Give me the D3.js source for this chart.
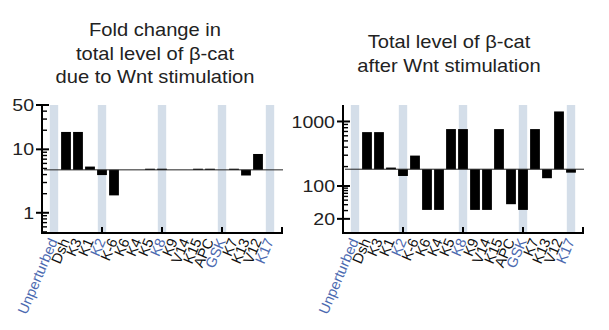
<!DOCTYPE html>
<html>
<head>
<meta charset="utf-8">
<script src="https://cdn.jsdelivr.net/npm/d3@7"></script>
<style>
  html, body { margin: 0; padding: 0; background: #fff; }
  svg { display: block; font-family: "Liberation Sans", Arial, sans-serif; }
</style>
</head>
<body>
<svg id="chart" width="609" height="330"></svg>
<script>
// Perturbations shown along the x axis
const categories = ["Unperturbed", "Dsh", "K3", "K1", "K2", "K-6", "K6", "K4", "K5", "K8",
                    "K9", "V14", "K15", "APC", "GSK", "K7", "K13", "V12", "K17"];
// Perturbations drawn with a shaded column and blue label
const highlighted = ["Unperturbed", "K2", "K8", "GSK", "K17"];

// Fold change in total beta-catenin due to Wnt stimulation
const foldChange = [4.75, 18.8, 18.8, 5.35, 3.93, 1.88, 4.75, 4.75, 4.95, 4.95,
                    4.75, 4.75, 4.95, 4.95, 4.75, 4.95, 3.87, 8.45, 4.75];
const foldBaseline = 4.75;
const foldTicks = [1, 10, 50];
const foldMinor = [0.5, 0.6, 0.7, 0.8, 0.9, 2, 3, 4, 5, 6, 7, 8, 9, 20, 30, 40];

// Total beta-catenin level after Wnt stimulation
const totalLevel = [182, 684, 684, 193, 143, 296, 31, 31, 762, 762,
                    31, 31, 762, 41, 31, 762, 132, 1430, 161];
const totalBaseline = 182;
const totalTicks = [20, 100, 1000];
const totalMinor = [30, 40, 50, 60, 70, 80, 90, 200, 300, 400, 500, 600, 700, 800, 900];

const svg = d3.select("#chart");
const blue = "#4b69b0";
const shade = "#d4dee9";
const yTop = 105, yBottom = 233;
const widen = 1.15; // text is set slightly wide

function panel(opts) {
  const g = svg.append("g");
  const x = d3.scaleLinear().domain([-1, categories.length]).range([opts.x0, opts.x0 + 240]);
  const y = opts.y;

  // title
  g.selectAll("text.title")
    .data(opts.title)
    .join("text")
    .attr("class", "title")
    .attr("text-anchor", "middle")
    .attr("font-size", 17.5)
    .attr("fill", "#222")
    .attr("transform", (d, i) => `translate(${opts.titleX},${opts.titleY + i * 23.5}) scale(${widen},1)`)
    .text(d => d);

  // shaded reference columns
  g.selectAll("rect.band")
    .data(categories.map((c, i) => ({ c, i })).filter(d => highlighted.includes(d.c)))
    .join("rect")
    .attr("class", "band")
    .attr("x", d => x(d.i) - 4.2)
    .attr("width", 8.4)
    .attr("y", yTop)
    .attr("height", yBottom - yTop)
    .attr("fill", shade);

  // bars measured from the unperturbed level
  const barW = 9.8;
  g.selectAll("rect.bar")
    .data(opts.values.map((v, i) => ({ v, i })))
    .join("rect")
    .attr("class", "bar")
    .attr("x", d => x(d.i) - barW / 2)
    .attr("width", barW)
    .attr("y", d => Math.min(y(d.v), y(opts.baseline)))
    .attr("height", d => Math.abs(y(d.v) - y(opts.baseline)))
    .attr("fill", "#000");

  // baseline
  g.append("line")
    .attr("x1", x(-1) + 2).attr("x2", x(categories.length) + 1)
    .attr("y1", y(opts.baseline)).attr("y2", y(opts.baseline))
    .attr("stroke", "#222").attr("stroke-width", 1);

  // y axis
  const ax = x(-1);
  g.append("line")
    .attr("x1", ax).attr("x2", ax).attr("y1", yTop).attr("y2", yBottom + 1)
    .attr("stroke", "#000").attr("stroke-width", 2);
  g.selectAll("line.minor")
    .data(opts.minor)
    .join("line")
    .attr("class", "minor")
    .attr("x1", ax).attr("x2", ax + 5)
    .attr("y1", d => y(d)).attr("y2", d => y(d))
    .attr("stroke", "#000").attr("stroke-width", 1.4);
  g.selectAll("line.major")
    .data(opts.ticks)
    .join("line")
    .attr("class", "major")
    .attr("x1", ax - 6).attr("x2", ax + 7)
    .attr("y1", d => y(d)).attr("y2", d => y(d))
    .attr("stroke", "#000").attr("stroke-width", 2);
  g.selectAll("text.ylab")
    .data(opts.ticks)
    .join("text")
    .attr("class", "ylab")
    .attr("transform", d => `translate(${ax - 8},${y(d)}) scale(${widen},1)`)
    .attr("dy", "0.36em")
    .attr("text-anchor", "end")
    .attr("font-size", 17)
    .attr("fill", "#222")
    .text(d => d);

  // x axis
  g.append("line")
    .attr("x1", ax - 1).attr("x2", x(categories.length) + 1)
    .attr("y1", yBottom).attr("y2", yBottom)
    .attr("stroke", "#000").attr("stroke-width", 2);
  g.selectAll("line.xtick")
    .data([4, 9, 14, 19])
    .join("line")
    .attr("class", "xtick")
    .attr("x1", d => x(d)).attr("x2", d => x(d))
    .attr("y1", yBottom).attr("y2", yBottom - 6)
    .attr("stroke", "#000").attr("stroke-width", 2);

  // category labels
  g.selectAll("text.xlab")
    .data(categories)
    .join("text")
    .attr("class", "xlab")
    .attr("text-anchor", "end")
    .attr("font-size", 14.5)
    .attr("fill", d => highlighted.includes(d) ? blue : "#111")
    .attr("transform", (d, i) => `translate(${x(i) + 4},${yBottom + 8}) rotate(-67)`)
    .text(d => d);
}

panel({
  x0: 42,
  y: d3.scaleLog().domain([0.48, 50]).range([yBottom, yTop]),
  values: foldChange,
  baseline: foldBaseline,
  ticks: foldTicks,
  minor: foldMinor,
  title: ["Fold change in", "total level of \u03B2-cat", "due to Wnt stimulation"],
  titleX: 155,
  titleY: 36
});

panel({
  x0: 343,
  y: d3.scaleLog().domain([10, 100, 1800]).range([yBottom, 186, yTop]),
  values: totalLevel,
  baseline: totalBaseline,
  ticks: totalTicks,
  minor: totalMinor,
  title: ["Total level of \u03B2-cat", "after Wnt stimulation"],
  titleX: 449,
  titleY: 48
});
</script>
</body>
</html>
